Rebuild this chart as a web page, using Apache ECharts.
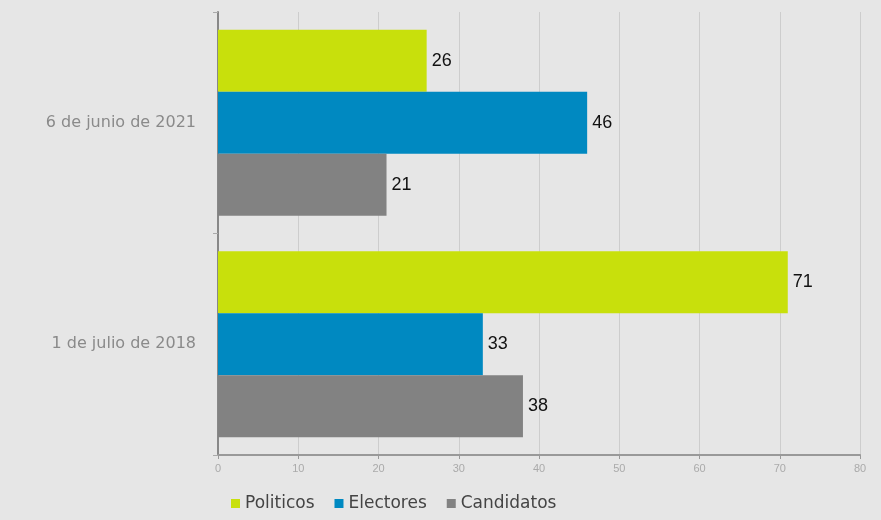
<!DOCTYPE html>
<html>
<head>
<meta charset="utf-8">
<script src="https://cdn.jsdelivr.net/npm/echarts@6/dist/echarts.min.js"></script>
<style>
  html, body { margin: 0; padding: 0; background: #e6e6e6; }
  #chart { width: 881px; height: 520px; }
</style>
</head>
<body>
<div id="chart"></div>
<script>
// categories top to bottom
const categories = ["6 de junio de 2021", "1 de julio de 2018"];
const seriesNames = ["Politicos", "Electores", "Candidatos"];
const politicos = [26, 71];
const electores = [46, 33];
const candidatos = [21, 38];
const colors = ["#c8e00c", "#0089c1", "#828282"];

const valueSets = [politicos, electores, candidatos];

const myChart = echarts.init(document.getElementById("chart"));
myChart.setOption({
  backgroundColor: "#e6e6e6",
  animation: false,
  grid: { left: 218, right: 21, top: 12, bottom: 65 },
  legend: {
    data: seriesNames,
    bottom: 3,
    left: 226,
    itemWidth: 9,
    itemHeight: 9,
    itemGap: 20,
    icon: "rect",
    textStyle: { color: "#444", fontSize: 17, fontFamily: "DejaVu Sans" },
  },
  xAxis: {
    type: "value",
    min: 0,
    max: 80,
    interval: 10,
    axisLine: { show: true, lineStyle: { color: "#999", width: 2 } },
    axisTick: { show: true, length: 4, lineStyle: { color: "#999" } },
    axisLabel: { color: "#aaa", fontSize: 11, margin: 8 },
    splitLine: { show: true, lineStyle: { color: "#cdcdcd", width: 1 } },
  },
  yAxis: {
    type: "category",
    inverse: true,
    data: categories,
    axisLine: { show: true, lineStyle: { color: "#888", width: 2 } },
    axisTick: { show: true, length: 5, lineStyle: { color: "#aaa" } },
    axisLabel: { color: "#8a8a8a", fontSize: 16, margin: 22, fontFamily: "DejaVu Sans" },
  },
  series: seriesNames.map((name, i) => ({
    name: name,
    type: "bar",
    data: valueSets[i],
    barGap: "0%",
    barCategoryGap: "16%",
    itemStyle: { color: colors[i] },
    label: {
      show: true,
      position: "right",
      distance: 5,
      color: "#111",
      fontSize: 18,
      fontFamily: "Liberation Sans Narrow, Liberation Sans, sans-serif",
    },
  })),
});
</script>
</body>
</html>
